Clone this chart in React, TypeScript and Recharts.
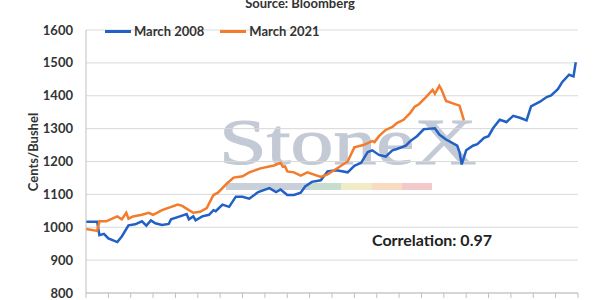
import React from 'react';
import { LineChart, Line, XAxis, YAxis, CartesianGrid, Legend } from 'recharts';

// x: session index (10 sessions per x-axis tick interval)
const blueDays = [0, 5, 6, 8, 10, 14, 16, 19, 22, 25, 27, 29, 31, 34, 37, 38, 42, 45, 46, 48, 49, 52, 55, 57, 58, 61, 64, 67, 70, 73, 77, 82, 85, 87, 90, 93, 96, 98, 101, 105, 108, 112, 117, 120, 123, 126, 128, 131, 134, 137, 139, 143, 145, 148, 151, 154, 156, 158, 161, 166, 167, 168, 170, 173, 175, 178, 180, 182, 185, 188, 191, 194, 197, 199, 203, 206, 208, 211, 213, 216, 218, 219];
const blueValues = [1017, 1017, 976, 980, 966, 955, 972, 1006, 1009, 1018, 1005, 1021, 1012, 1007, 1010, 1024, 1033, 1040, 1024, 1033, 1021, 1033, 1038, 1052, 1049, 1069, 1062, 1093, 1093, 1087, 1107, 1119, 1107, 1115, 1098, 1098, 1105, 1124, 1138, 1143, 1170, 1173, 1167, 1187, 1196, 1229, 1234, 1220, 1215, 1234, 1238, 1248, 1262, 1277, 1298, 1300, 1301, 1282, 1267, 1248, 1229, 1191, 1234, 1248, 1253, 1272, 1277, 1301, 1327, 1320, 1339, 1333, 1325, 1368, 1382, 1396, 1401, 1420, 1442, 1464, 1459, 1502];

const orangeDays = [0, 5, 6, 9, 14, 16, 18, 19, 21, 25, 28, 30, 34, 41, 43, 46, 48, 51, 54, 57, 59, 63, 66, 70, 73, 78, 84, 87, 88, 89, 90, 93, 96, 99, 105, 108, 112, 117, 120, 124, 128, 129, 131, 134, 137, 139, 142, 145, 147, 149, 152, 155, 156, 158, 159, 161, 164, 167, 169];
const orangeValues = [995, 989, 1018, 1018, 1033, 1024, 1044, 1026, 1033, 1038, 1044, 1038, 1052, 1069, 1065, 1052, 1044, 1047, 1058, 1098, 1105, 1133, 1151, 1155, 1167, 1179, 1188, 1196, 1184, 1185, 1170, 1167, 1157, 1167, 1153, 1161, 1178, 1200, 1243, 1250, 1262, 1259, 1277, 1296, 1305, 1317, 1327, 1348, 1367, 1375, 1396, 1418, 1406, 1430, 1418, 1384, 1377, 1370, 1325];

const xTicks = [0, 10, 20, 30, 40, 50, 60, 70, 80, 90, 100, 110, 120, 130, 140, 150, 160, 170, 180, 190, 200, 210, 220];
const yTicks = [800, 900, 1000, 1100, 1200, 1300, 1400, 1500, 1600];

const seriesNames = ['March 2008', 'March 2021'];
const seriesColors = ['#2160C4', '#F47B2A'];

const blueData = blueDays.map((d, i) => ({ d, v: blueValues[i] }));
const orangeData = orangeDays.map((d, i) => ({ d, v: orangeValues[i] }));

const FONT = 'Lato, "Open Sans", sans-serif';

const LegendContent = () => (
  <div style={{ display: 'flex', fontFamily: FONT, fontWeight: 700, fontSize: 13, color: '#333' }}>
    {seriesNames.map((n, i) => (
      <div key={n} style={{ display: 'flex', alignItems: 'center', marginRight: 16 }}>
        <div style={{ width: 26, height: 3, background: seriesColors[i], marginRight: 3 }} />
        <span>{n}</span>
      </div>
    ))}
  </div>
);

export default function App() {
  return (
    <div style={{ position: 'absolute', left: 0, top: 0, width: 600, height: 300, overflow: 'hidden', background: '#fff' }}>
      <div style={{ position: 'absolute', left: 0, top: 0, width: 600, height: 300, zIndex: 0 }}>
        <div style={{ position: 'absolute', left: 219, top: 109, fontFamily: '"Liberation Serif", "DejaVu Serif", serif', fontSize: 66, color: '#c3cad5', lineHeight: '66px', transform: 'scaleX(1.3)', transformOrigin: 'left top', whiteSpace: 'nowrap', WebkitTextStroke: '1px #c3cad5' }}>
          StoneX
        </div>
        <div style={{ position: 'absolute', left: 226, top: 183, width: 84, height: 7, background: '#c9d0da' }} />
        <div style={{ position: 'absolute', left: 310, top: 183, width: 31, height: 7, background: '#c6ddd0' }} />
        <div style={{ position: 'absolute', left: 341, top: 183, width: 31, height: 7, background: '#f1ecc8' }} />
        <div style={{ position: 'absolute', left: 372, top: 183, width: 30, height: 7, background: '#f7dcc2' }} />
        <div style={{ position: 'absolute', left: 402, top: 183, width: 30, height: 7, background: '#f3c9cc' }} />
      </div>
      <div style={{ position: 'absolute', left: 0, top: 0, zIndex: 1 }}>
        <LineChart width={600} height={300} margin={{ top: 14, right: 22, bottom: 0, left: 0 }}>
          <CartesianGrid vertical={false} stroke="#d9d9d9" />
          <XAxis
            type="number"
            dataKey="d"
            domain={[0, 220]}
            ticks={xTicks}
            interval={0}
            tickFormatter={() => ''}
            height={7}
            tickSize={5}
            stroke="#bfbfbf"
          />
          <YAxis
            type="number"
            domain={[800, 1600]}
            ticks={yTicks}
            interval={0}
            width={86}
            tickLine={false}
            tickSize={6}
            tickMargin={7}
            stroke="#bfbfbf"
            tick={{ fill: '#333', fontFamily: FONT, fontWeight: 700, fontSize: 13 }}
          />
          <Legend
            verticalAlign="top"
            align="left"
            content={<LegendContent />}
            wrapperStyle={{ position: 'absolute', top: 23, left: 105, width: 300 }}
          />
          <Line data={blueData} dataKey="v" name={seriesNames[0]} stroke={seriesColors[0]} strokeWidth={2.5} dot={false} isAnimationActive={false} />
          <Line data={orangeData} dataKey="v" name={seriesNames[1]} stroke={seriesColors[1]} strokeWidth={2.5} dot={false} isAnimationActive={false} />
        </LineChart>
      </div>
      <div style={{ position: 'absolute', left: 0, top: -5, width: 600, textAlign: 'center', zIndex: 2, fontFamily: FONT, fontWeight: 700, fontSize: 13, color: '#333' }}>
        Source: Bloomberg
      </div>
      <div style={{ position: 'absolute', left: 372, top: 230, zIndex: 2, fontFamily: FONT, fontWeight: 700, fontSize: 16, color: '#222' }}>
        Correlation: 0.97
      </div>
      <div style={{ position: 'absolute', left: 33, top: 152, transform: 'translate(-50%, -50%) rotate(-90deg)', zIndex: 2, fontFamily: FONT, fontWeight: 700, fontSize: 13, color: '#333', whiteSpace: 'nowrap' }}>
        Cents/Bushel
      </div>
    </div>
  );
}
